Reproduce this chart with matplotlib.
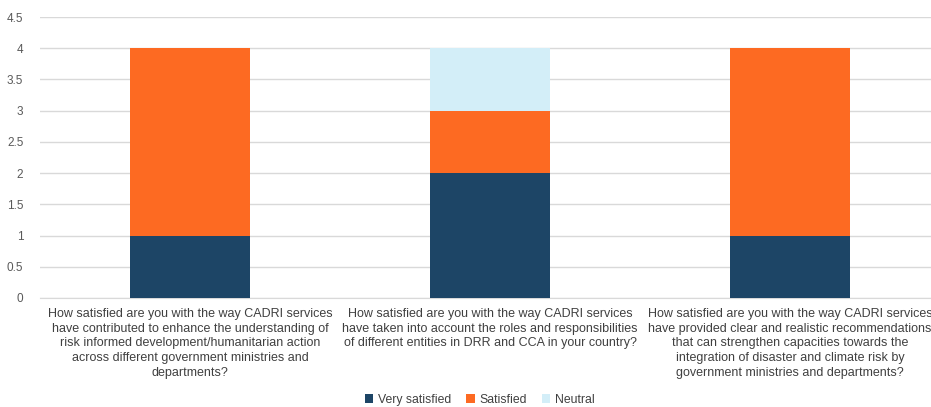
import matplotlib
matplotlib.use('Agg')
import matplotlib.pyplot as plt
import numpy as np

plt.rcParams['font.family'] = ['Liberation Sans', 'DejaVu Sans']

questions = [
    'How satisfied are you with the way CADRI services\nhave contributed to enhance the understanding of\nrisk informed development/humanitarian action\nacross different government ministries and\ndepartments?',
    'How satisfied are you with the way CADRI services\nhave taken into account the roles and responsibilities\nof different entities in DRR and CCA in your country?',
    'How satisfied are you with the way CADRI services\nhave provided clear and realistic recommendations\nthat can strengthen capacities towards the\nintegration of disaster and climate risk by\ngovernment ministries and departments?',
]
very_satisfied = [1, 2, 1]
satisfied = [3, 1, 3]
neutral = [0, 1, 0]

colors = ['#1d4566', '#fd6a22', '#d3eef8']
labels = ['Very satisfied', 'Satisfied', 'Neutral']

fig = plt.figure(figsize=(9.31, 4.07), dpi=100)
ax = fig.add_axes([40/931, 1 - 298/407, 900/931, 281/407])

x = np.arange(len(questions))
bottom = np.zeros(len(questions))
for vals, c, lab in zip([very_satisfied, satisfied, neutral], colors, labels):
    ax.bar(x, vals, 0.4, bottom=bottom, color=c, label=lab, zorder=3)
    bottom += np.array(vals)

ax.set_xlim(-0.5, 2.5)
ax.set_ylim(0, 4.5)
ax.set_yticks(np.arange(0, 4.6, 0.5))
ax.set_yticklabels(['0', '0.5', '1', '1.5', '2', '2.5', '3', '3.5', '4', '4.5'])
ax.yaxis.grid(True, color='#d9d9d9', linewidth=1, zorder=0)
for s in ['top', 'right', 'left']:
    ax.spines[s].set_visible(False)
ax.spines['bottom'].set_color('#d9d9d9')
ax.tick_params(axis='y', length=0, labelsize=8.5, colors='#595959', pad=12)
ax.tick_params(axis='x', length=0, pad=7)
ax.set_xticks(x)
ax.set_xticklabels(questions, fontsize=9, color='#404040', linespacing=1.32)

handles, labs = ax.get_legend_handles_labels()
fig.legend(handles, labs, loc='center', bbox_to_anchor=(480/931, 7/407),
           ncol=3, frameon=False, fontsize=8.8, handlelength=0.7, handleheight=0.7,
           columnspacing=1.2, handletextpad=0.4, labelcolor='#404040')

fig.savefig('out.png', dpi=100)
